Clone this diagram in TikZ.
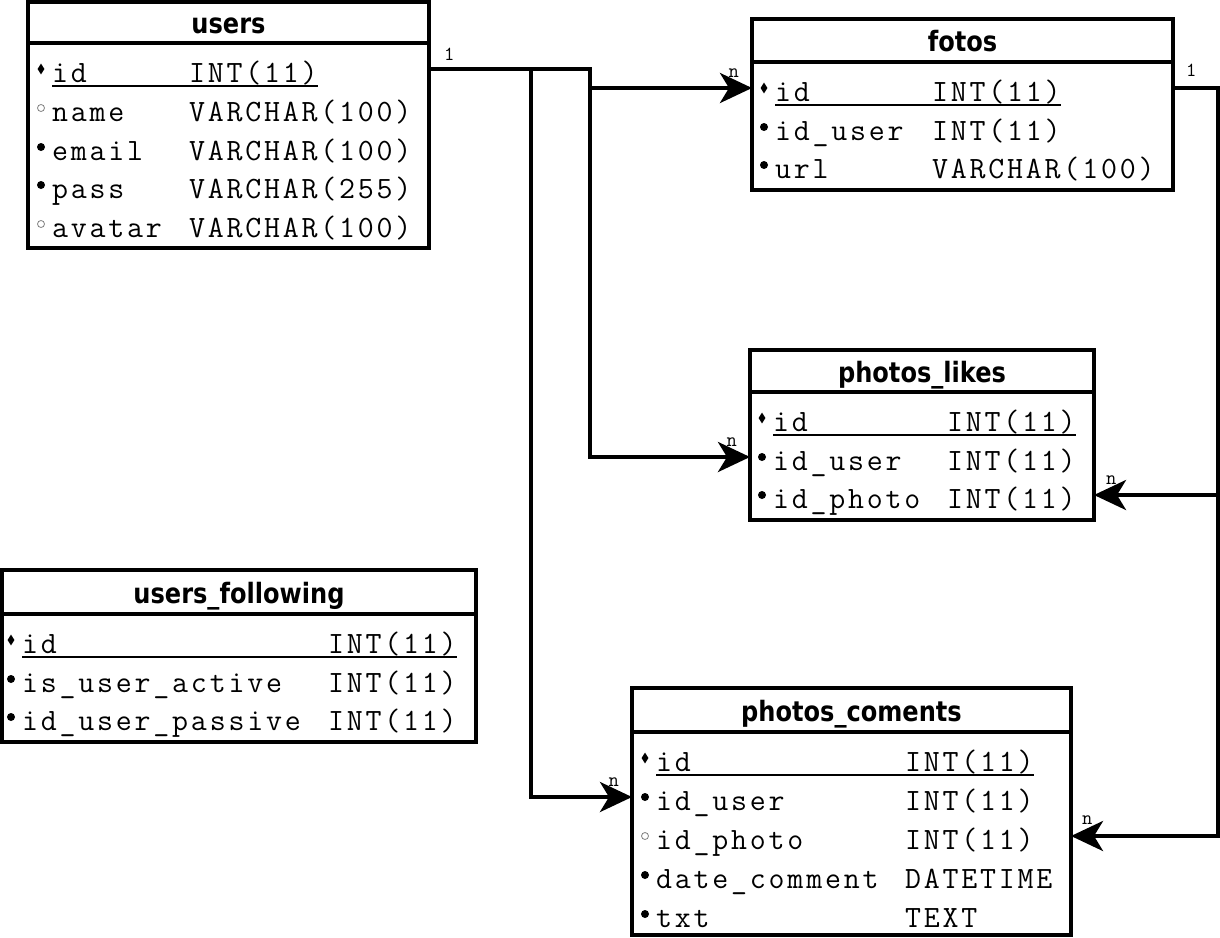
\documentclass[tikz,border=0pt]{standalone}
\usepackage{fontspec}
\usepackage{tikz}
\usetikzlibrary{arrows.meta,positioning,calc,shapes.geometric}
\newfontfamily\fldfont{Latin Modern Mono}[LetterSpace=9]
\newfontfamily\ttlfont{DejaVu Sans Bold}[FakeStretch=0.86]

\begin{document}
\begin{tikzpicture}[
    x=1pt, y=-1pt,
    ttl/.style={draw, line width=4pt, anchor=north west, inner sep=0pt, outer sep=0pt, text height=22pt, text depth=0pt, font=\ttlfont\fontsize{28}{28}\selectfont},
    tbl/.style={draw, line width=4pt, anchor=north west, inner sep=0pt, outer sep=0pt},
    fld/.style={anchor=base west, inner sep=0pt, font=\fldfont\fontsize{31}{31}\selectfont},
    pk/.style={diamond, fill, inner sep=0pt, minimum width=7pt, minimum height=11pt},
    nn/.style={circle, fill, inner sep=0pt, minimum size=8pt},
    nl/.style={circle, draw=gray, line width=0.8pt, inner sep=0pt, minimum size=7pt},
    uline/.style={line width=2pt},
    rel/.style={line width=4pt, -{Stealth[length=32pt, width=30pt, inset=9pt]}},
    card/.style={inner sep=0pt, font=\fldfont\fontsize{20}{20}\selectfont}
]
    \useasboundingbox (0,0) rectangle (1220,937);

    % Table users
    \node[ttl, minimum width=401pt, minimum height=41pt] (users-t) at (28,2) {users};
    \node[tbl, minimum width=401pt, minimum height=205pt] (users-b) at (users-t.south west) {};
    \node[fld] (users-r1) at (52,82) {\makebox[137pt][l]{id}INT(11)};
    \node[fld] (users-r2) at (52,121) {\makebox[137pt][l]{name}VARCHAR(100)};
    \node[fld] (users-r3) at (52,160) {\makebox[137pt][l]{email}VARCHAR(100)};
    \node[fld] (users-r4) at (52,198) {\makebox[137pt][l]{pass}VARCHAR(255)};
    \node[fld] (users-r5) at (52,237) {\makebox[137pt][l]{avatar}VARCHAR(100)};
    \draw[uline] ([yshift=-4pt]users-r1.base west) -- ([yshift=-4pt]users-r1.base east);
    \node[pk] (users-k1) at ([shift={(-11pt,13pt)}]users-r1.base west) {};
    \node[nl] (users-k2) at ([shift={(-11pt,13pt)}]users-r2.base west) {};
    \node[nn] (users-k3) at ([shift={(-11pt,13pt)}]users-r3.base west) {};
    \node[nn] (users-k4) at ([shift={(-11pt,13pt)}]users-r4.base west) {};
    \node[nl] (users-k5) at ([shift={(-11pt,13pt)}]users-r5.base west) {};

    % Table fotos
    \node[ttl, minimum width=421pt, minimum height=43pt] (fotos-t) at (752,19) {fotos};
    \node[tbl, minimum width=421pt, minimum height=128pt] (fotos-b) at (fotos-t.south west) {};
    \node[fld] (fotos-r1) at (775,101) {\makebox[157pt][l]{id}INT(11)};
    \node[fld] (fotos-r2) at (775,140) {\makebox[157pt][l]{id\_user}INT(11)};
    \node[fld] (fotos-r3) at (775,178) {\makebox[157pt][l]{url}VARCHAR(100)};
    \draw[uline] ([yshift=-4pt]fotos-r1.base west) -- ([yshift=-4pt]fotos-r1.base east);
    \node[pk] (fotos-k1) at ([shift={(-11pt,13pt)}]fotos-r1.base west) {};
    \node[nn] (fotos-k2) at ([shift={(-11pt,13pt)}]fotos-r2.base west) {};
    \node[nn] (fotos-k3) at ([shift={(-11pt,13pt)}]fotos-r3.base west) {};

    % Table photos_likes
    \node[ttl, minimum width=344pt, minimum height=42pt] (likes-t) at (750,350) {photos\_likes};
    \node[tbl, minimum width=344pt, minimum height=128pt] (likes-b) at (likes-t.south west) {};
    \node[fld] (likes-r1) at (773,431) {\makebox[174pt][l]{id}INT(11)};
    \node[fld] (likes-r2) at (773,470) {\makebox[174pt][l]{id\_user}INT(11)};
    \node[fld] (likes-r3) at (773,508) {\makebox[174pt][l]{id\_photo}INT(11)};
    \draw[uline] ([yshift=-4pt]likes-r1.base west) -- ([yshift=-4pt]likes-r1.base east);
    \node[pk] (likes-k1) at ([shift={(-11pt,13pt)}]likes-r1.base west) {};
    \node[nn] (likes-k2) at ([shift={(-11pt,13pt)}]likes-r2.base west) {};
    \node[nn] (likes-k3) at ([shift={(-11pt,13pt)}]likes-r3.base west) {};

    % Table users_following
    \node[ttl, minimum width=474pt, minimum height=44pt] (follow-t) at (2,570) {users\_following};
    \node[tbl, minimum width=474pt, minimum height=128pt] (follow-b) at (follow-t.south west) {};
    \node[fld] (follow-r1) at (22,653) {\makebox[306pt][l]{id}INT(11)};
    \node[fld] (follow-r2) at (22,692) {\makebox[306pt][l]{is\_user\_active}INT(11)};
    \node[fld] (follow-r3) at (22,730) {\makebox[306pt][l]{id\_user\_passive}INT(11)};
    \draw[uline] ([yshift=-4pt]follow-r1.base west) -- ([yshift=-4pt]follow-r1.base east);
    \node[pk] (follow-k1) at ([shift={(-11pt,13pt)}]follow-r1.base west) {};
    \node[nn] (follow-k2) at ([shift={(-11pt,13pt)}]follow-r2.base west) {};
    \node[nn] (follow-k3) at ([shift={(-11pt,13pt)}]follow-r3.base west) {};

    % Table photos_coments
    \node[ttl, minimum width=439pt, minimum height=44pt] (coments-t) at (632,688) {photos\_coments};
    \node[tbl, minimum width=439pt, minimum height=203pt] (coments-b) at (coments-t.south west) {};
    \node[fld] (coments-r1) at (656,771) {\makebox[249pt][l]{id}INT(11)};
    \node[fld] (coments-r2) at (656,810) {\makebox[249pt][l]{id\_user}INT(11)};
    \node[fld] (coments-r3) at (656,849) {\makebox[249pt][l]{id\_photo}INT(11)};
    \node[fld] (coments-r4) at (656,888) {\makebox[249pt][l]{date\_comment}DATETIME};
    \node[fld] (coments-r5) at (656,927) {\makebox[249pt][l]{txt}TEXT};
    \draw[uline] ([yshift=-4pt]coments-r1.base west) -- ([yshift=-4pt]coments-r1.base east);
    \node[pk] (coments-k1) at ([shift={(-11pt,13pt)}]coments-r1.base west) {};
    \node[nn] (coments-k2) at ([shift={(-11pt,13pt)}]coments-r2.base west) {};
    \node[nl] (coments-k3) at ([shift={(-11pt,13pt)}]coments-r3.base west) {};
    \node[nn] (coments-k4) at ([shift={(-11pt,13pt)}]coments-r4.base west) {};
    \node[nn] (coments-k5) at ([shift={(-11pt,13pt)}]coments-r5.base west) {};

    % Relations from users
    \draw[rel] (users-k1 -| users-b.east) node[card, anchor=base west, xshift=13pt, yshift=9pt] {1}
        -- ++(161,0) |- (fotos-k1 -| fotos-b.west) node[card, anchor=base east, xshift=-11pt, yshift=11pt] {n};
    \draw[rel] (users-k1 -| users-b.east) -- ++(161,0) |- (likes-k2 -| likes-b.west)
        node[card, anchor=base east, xshift=-11pt, yshift=11pt] {n};
    \draw[rel] (users-k1 -| users-b.east) -- ++(102,0) |- (coments-k2 -| coments-b.west)
        node[card, anchor=base east, xshift=-11pt, yshift=11pt] {n};

    % Relations from fotos
    \draw[rel] (fotos-k1 -| fotos-b.east) node[card, anchor=base west, xshift=11pt, yshift=12pt] {1}
        -- ++(45,0) |- (likes-k3 -| likes-b.east) node[card, anchor=base west, xshift=10pt, yshift=11pt] {n};
    \draw[rel] (fotos-k1 -| fotos-b.east) -- ++(45,0) |- (coments-k3 -| coments-b.east)
        node[card, anchor=base west, xshift=9pt, yshift=12pt] {n};

\end{tikzpicture}
\end{document}
